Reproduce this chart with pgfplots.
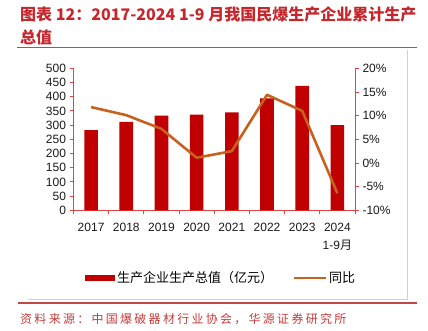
\documentclass[border=0pt]{standalone}
\usepackage{pgfplots}
\pgfplotsset{compat=1.18}
\usepackage{fontspec}
\setmainfont{Liberation Sans}
\newfontfamily\cjk{Noto Sans CJK SC}
\newfontfamily\src[LetterSpace=19]{Noto Sans CJK SC}
\definecolor{barred}{RGB}{192,0,0}
\definecolor{lineor}{RGB}{200,96,30}
\definecolor{axred}{RGB}{222,70,70}
\definecolor{titlered}{RGB}{196,40,45}
\definecolor{rulered}{RGB}{196,70,70}
\definecolor{srcred}{RGB}{196,60,60}
\begin{document}
\begin{tikzpicture}[x=1pt,y=1pt]
\path[use as bounding box] (0pt,0pt) rectangle (428pt,331pt);
\node[anchor=base west, inner sep=0, text=titlered, font=\cjk\bfseries\fontsize{16}{18}\selectfont] at (20pt,310pt) {图表 12：2017-2024 1-9 月我国民爆生产企业累计生产};
\node[anchor=base west, inner sep=0, text=titlered, font=\cjk\bfseries\fontsize{16}{18}\selectfont] at (20pt,287pt) {总值};
\draw[rulered, line width=1.5pt] (17pt,283.5pt) -- (417pt,283.5pt);
\draw[black!18, line width=0.8pt] (407pt,281pt) -- (407pt,32pt) -- (28pt,32pt);
\draw[rulered, line width=1.5pt] (17.5pt,28pt) -- (417pt,28pt);
\node[anchor=base west, inner sep=0, text=srcred, font=\src\fontsize{12}{14}\selectfont] at (20pt,7.5pt) {资料来源：中国爆破器材行业协会，华源证券研究所};

\begin{axis}[at={(73.5pt,120.7pt)}, anchor=south west,
  scale only axis, width=281.5pt, height=142pt,
  xmin=-0.5, xmax=7.5, ymin=0, ymax=500,
  axis y line*=left, axis x line*=bottom,
  axis line style={axred, line width=0.8pt},
  every tick/.style={axred, line width=0.8pt},
  tick align=outside,
  major tick length=4pt, minor tick length=4pt,
  xtick={0,...,7},
  xticklabels={2017,2018,2019,2020,2021,2022,2023,{2024\\1-9{\cjk 月}}},
  major x tick style={draw=none},
  minor xtick={-0.5,0.5,...,7.5},
  ytick={0,50,...,500},
  /pgf/number format/assume math mode=true,
  tick label style={font=\fontsize{12}{18}\selectfont, text=black!90},
  xticklabel style={align=center, yshift=-5pt},
  legend style={at={(0.041,-0.477)}, anchor=west, draw=none, fill=none,
    font=\cjk\fontsize{13}{15}\selectfont, inner xsep=0pt,
    /tikz/every even column/.append style={column sep=18pt}},
  legend columns=2, legend cell align=left,
]
\addplot[ybar, bar width=13.6pt, fill=barred, draw=none,
  legend image code/.code={\fill[barred] (0pt,-3pt) rectangle (30pt,3pt);}]
  coordinates {(0,282) (1,311) (2,333) (3,337) (4,345) (5,394) (6,438) (7,300)};
\addlegendentry{生产企业生产总值（亿元）}
\addlegendimage{lineor, line width=2pt, legend image code/.code={\draw[lineor, line width=2pt] (0pt,0pt) -- (32pt,0pt);}}
\addlegendentry{同比}
\end{axis}

\begin{axis}[at={(73.5pt,120.7pt)}, anchor=south west,
  scale only axis, width=281.5pt, height=142pt,
  xmin=-0.5, xmax=7.5, ymin=-10, ymax=20,
  axis y line*=right, axis x line=none,
  axis line style={axred, line width=0.8pt},
  every tick/.style={axred, line width=0.8pt},
  tick align=outside, major tick length=4pt,
  ytick={-10,-5,0,5,10,15,20},
  yticklabels={-10\%,-5\%,0\%,5\%,10\%,15\%,20\%},
  tick label style={font=\fontsize{12}{14}\selectfont, text=black!90},
]
\addplot[lineor, line width=2.6pt, line join=round] coordinates {(0,11.8) (1,10.1) (2,7.2) (3,1.1) (4,2.5) (5,14.4) (6,11.0) (7,-6.4)};
\end{axis}
\end{tikzpicture}
\end{document}
